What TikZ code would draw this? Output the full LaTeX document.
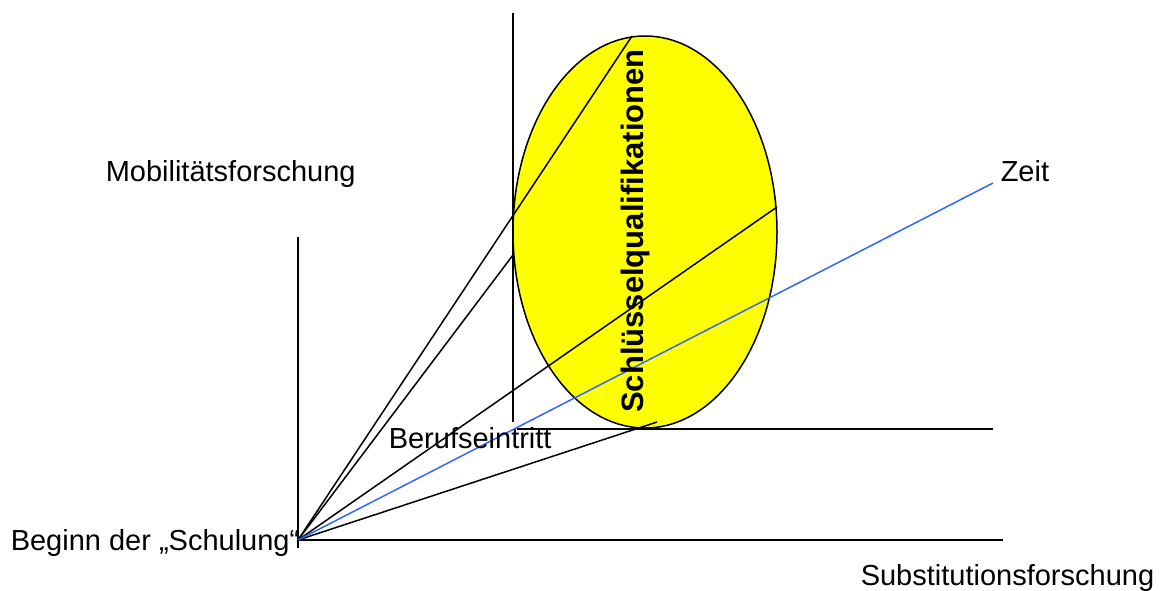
\documentclass[tikz,border=0pt]{standalone}
\usepackage{fontspec}
\setmainfont{Liberation Sans}
\usetikzlibrary{positioning}
\definecolor{zeitblue}{RGB}{51,102,255}
\definecolor{ovalyellow}{RGB}{255,255,0}

\begin{document}
\begin{tikzpicture}[x=1pt, y=-1pt, line width=1.5pt,
  every node/.style={font=\fontsize{29}{34}\selectfont, inner sep=0pt},
  schrift/.style={anchor=base west}]
  \useasboundingbox (0,0) rectangle (1161,590);
  % Punkte
  \coordinate (O) at (298,540);
  \coordinate (yTop) at (298,237);
  \coordinate (yBot) at (298,548);
  \coordinate (xEnd) at (1003,540);
  \coordinate (vTop) at (513,13);
  \coordinate (vBot) at (513,422);
  \coordinate (hStart) at (517,429);
  \coordinate (hEnd) at (993,429);
  \coordinate (ovalTop) at (632,36);
  \coordinate (ovalLeft) at (513,255);
  \coordinate (ovalRight) at (777,207);
  \coordinate (ovalBot) at (657,422);
  \coordinate (zeitEnd) at (993,183);
  % Oval
  \draw[fill=ovalyellow] (645,232) ellipse [x radius=132pt, y radius=196pt];
  % Achsen
  \draw (yBot) -- (yTop);
  \draw (O) -- (xEnd);
  \draw (vBot) -- (vTop);
  \draw (hStart) -- (hEnd);
  % Strahlen
  \draw (O) -- (ovalTop);
  \draw (O) -- (ovalLeft);
  \draw (O) -- (ovalRight);
  \draw (O) -- (ovalBot);
  \draw[zeitblue] (O) -- (zeitEnd);
  % Texte
  \node[schrift] (mob) at (105,181) {Mobilitätsforschung};
  \node[schrift] (zeit) at (1000,181) {Zeit};
  \node[schrift] (beruf) at (388,448) {Berufseintritt};
  \node[schrift] (beginn) at (10,550) {Beginn der „Schulung“};
  \node[schrift] (subst) at (860,585) {Substitutionsforschung};
  \node[rotate=90, font=\fontsize{31}{34}\selectfont\bfseries] (schluessel) at (635,231) {Schlüsselqualifikationen};
\end{tikzpicture}
\end{document}
